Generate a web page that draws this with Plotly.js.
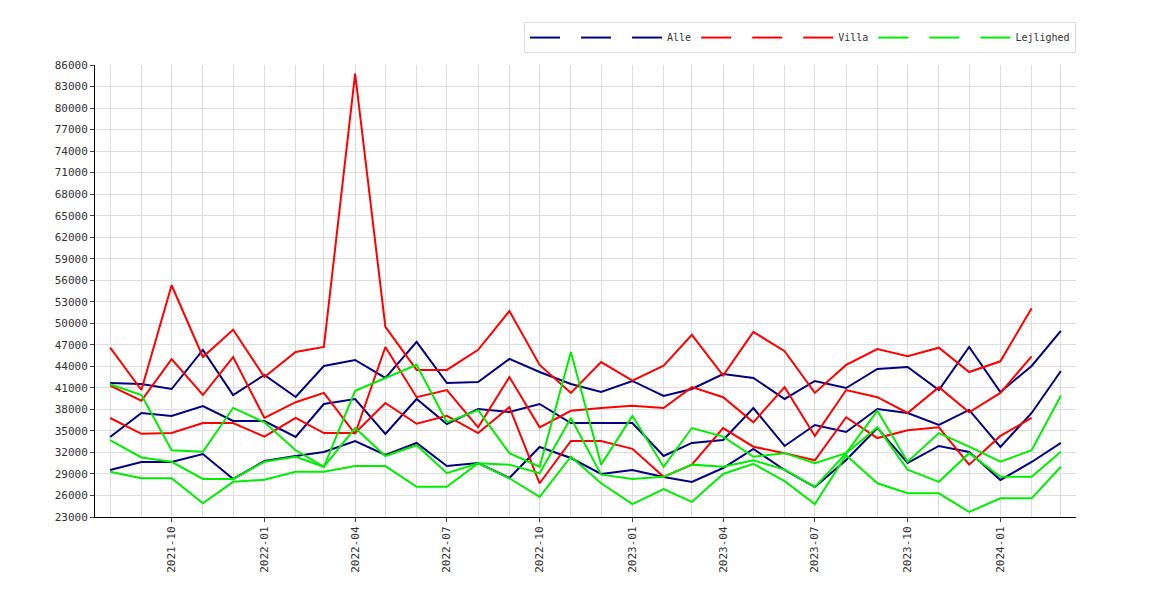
<!DOCTYPE html>
<html>
<head>
<meta charset="utf-8">
<script src="https://cdn.plot.ly/plotly-3.0.1.min.js"></script>
<style>body{margin:0;background:#fff}#grafico{width:1170px;height:600px}</style>
</head>
<body>
<div id="grafico"></div>
<script>
function months(start, n) {
    const out = [];
    let [y, m] = start.split('-').map(Number);
    for (let i = 0; i < n; i++) {
        out.push(y + '-' + String(m).padStart(2, '0') + '-01');
        m++; if (m > 12) { m = 1; y++; }
    }
    return out;
}
const datoer = months('2021-08', 32);
const datoerVilla = datoer.slice(0, 31);

const alleHoej = [41680,41540,40840,46280,40000,42800,39730,44050,44890,42380,47400,41680,41820,45030,43210,41540,40430,41960,39870,40840,42930,42380,39450,41960,40980,43630,43910,40700,46700,40430,44050,48930];
const alleMid = [34150,37500,37080,38470,36380,36380,34150,38750,39450,34570,39450,35960,38060,37640,38750,36100,36100,36100,31500,33320,33730,38190,32900,35830,34850,38060,37500,35830,37920,32760,37500,43350];
const alleLav = [29550,30670,30670,31780,28300,30810,31500,32060,33590,31640,33320,30110,30530,28440,32760,31220,29000,29550,28580,27880,29830,32480,29550,27180,30950,35410,30530,32900,32060,28160,30670,33320];

const villaHoej = [46600,40700,55300,45300,49100,42500,46000,46700,84800,49500,43500,43500,46300,51700,44200,40300,44600,42000,44100,48400,42700,48800,46100,40300,44200,46400,45400,46600,43200,44700,52100];
const villaMid = [41300,39200,45000,40000,45300,36800,39000,40300,34600,46700,39700,40700,35500,42500,35500,37800,38200,38500,38200,41100,39700,36200,41100,34300,40700,39700,37500,41100,37600,40300,45400];
const villaLav = [36800,34600,34700,36100,36100,34200,36800,34700,34700,38900,36000,37100,34700,38300,27700,33600,33600,32500,28600,30300,35400,32800,31900,30900,36900,34000,35100,35500,30300,34300,36800];

const lejHoej = [41500,40000,32300,32100,38200,36200,32300,30000,40600,42400,44200,36200,37900,31900,30000,46000,30300,37100,30000,35400,34200,31400,31900,30500,31900,37800,30700,34700,32800,30700,32300,39900];
const lejMid = [33700,31300,30700,28300,28300,30700,31400,30000,35400,31500,33000,29100,30500,30300,29100,36800,28900,28300,28600,30300,30000,30900,29600,27200,31900,35500,29600,27900,31900,28600,28600,32100];
const lejLav = [29300,28400,28400,24900,27900,28200,29300,29300,30100,30100,27200,27200,30500,28400,25800,31400,27700,24800,26900,25100,29000,30400,28000,24800,31600,27700,26300,26300,23700,25600,25600,30000];

const yTicks = [];
for (let v = 23000; v <= 86000; v += 3000) yTicks.push(v);

function serie(x, y, navn, farve) {
    return { x: x, y: y, type: 'scatter', mode: 'lines', name: navn,
             line: { color: farve, width: 2 } };
}

const data = [
    serie(datoer, alleHoej, ' ', '#000080'),
    serie(datoer, alleMid, ' ', '#000080'),
    serie(datoer, alleLav, 'Alle', '#000080'),
    serie(datoerVilla, villaHoej, ' ', '#ff0000'),
    serie(datoerVilla, villaMid, ' ', '#ff0000'),
    serie(datoerVilla, villaLav, 'Villa', '#ff0000'),
    serie(datoer, lejHoej, ' ', '#00ee00'),
    serie(datoer, lejMid, ' ', '#00ee00'),
    serie(datoer, lejLav, 'Lejlighed', '#00ee00')
];

const layout = {
    width: 1170, height: 600,
    margin: { l: 95, r: 94, t: 65, b: 83, autoexpand: false },
    paper_bgcolor: '#fff', plot_bgcolor: '#fff',
    font: { family: 'DejaVu Sans Mono, monospace', size: 11, color: '#333' },
    showlegend: true,
    legend: { orientation: 'h', x: 1.0, xanchor: 'right', y: 1.095, yanchor: 'top',
              bordercolor: '#ddd', borderwidth: 1, itemwidth: 30, tracegroupgap: 0,
              font: { size: 10, color: '#333' } },
    xaxis: {
        type: 'date', range: ['2021-07-17', '2024-03-16'], automargin: false,
        tick0: '2021-10-01', dtick: 'M3', tickformat: '%Y-%m', tickangle: -90,
        showgrid: true, gridcolor: '#dddddd', ticks: 'outside', ticklen: 4,
        minor: { dtick: 'M1', showgrid: true, gridcolor: '#dddddd' },
        showline: true, linecolor: '#000', zeroline: false
    },
    yaxis: {
        range: [23000, 86000], tickvals: yTicks, ticktext: yTicks.map(String), automargin: false,
        showgrid: true, gridcolor: '#dddddd', ticks: 'outside', ticklen: 4,
        showline: true, linecolor: '#000', zeroline: false
    }
};

Plotly.newPlot('grafico', data, layout, { displayModeBar: false });
</script>
</body>
</html>
